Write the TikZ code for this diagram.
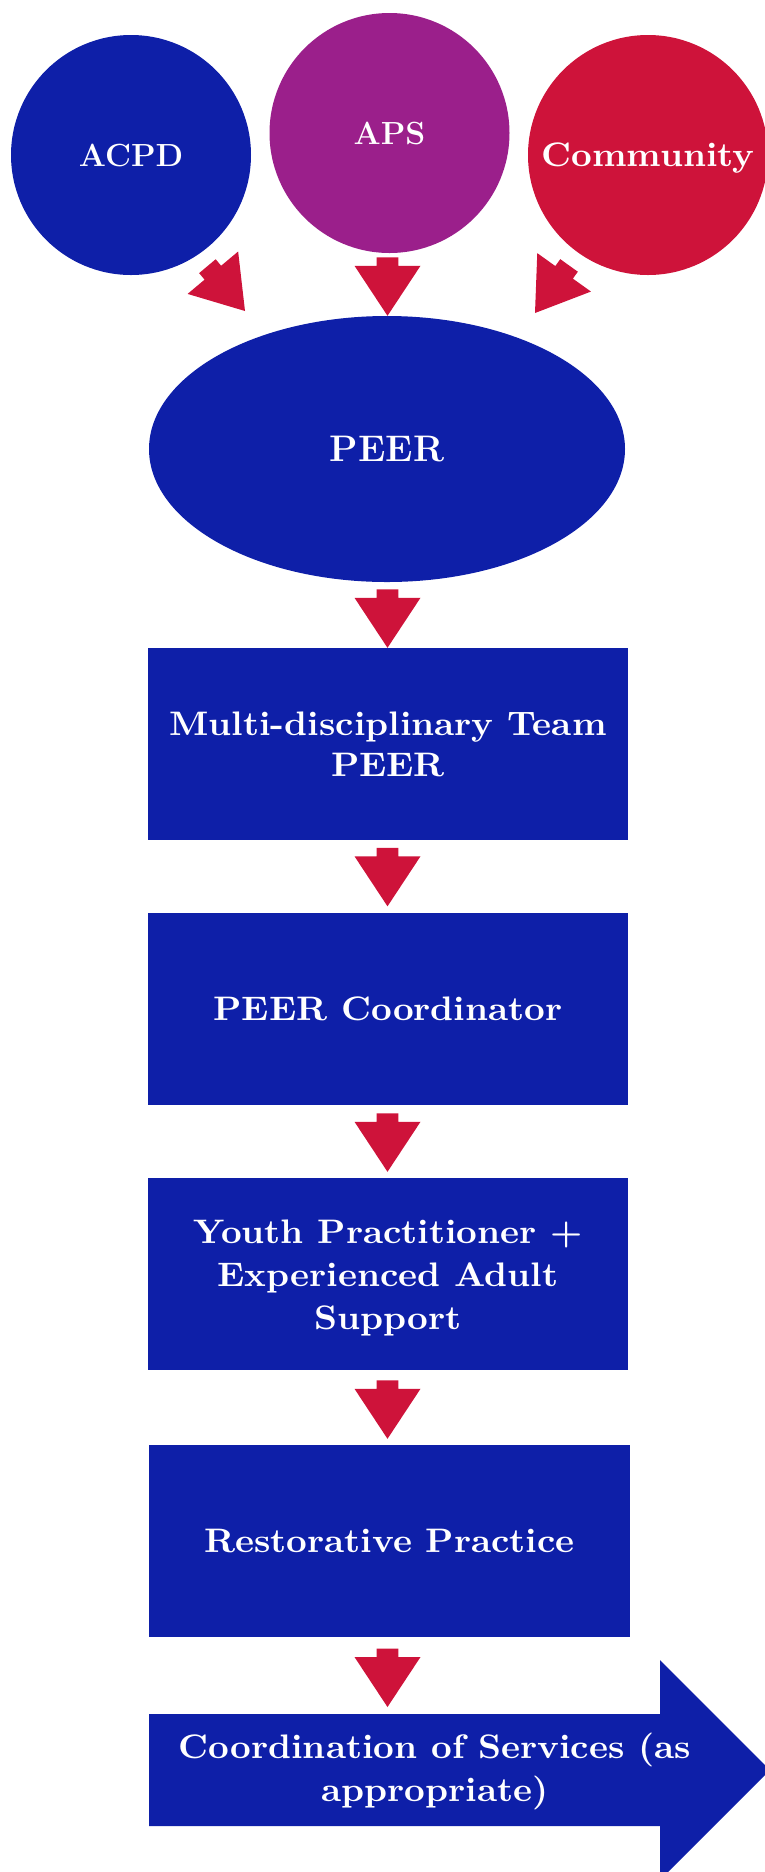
\documentclass[tikz,border=0pt]{standalone}
\usepackage{fontspec}
\newfontfamily\widebf[FakeStretch=1.06]{lmroman10-bold.otf}
\usetikzlibrary{shapes.geometric,calc}
\definecolor{pblue}{RGB}{14,31,168}
\definecolor{pred}{RGB}{206,19,58}
\definecolor{ppurple}{RGB}{155,31,139}
\tikzset{
  circ/.style={circle, inner sep=0pt, minimum size=240pt, text=white, text depth=0pt,
    font=\fontsize{32}{38}\selectfont\bfseries},
  boxnode/.style={rectangle, fill=pblue, inner sep=0pt, text=white, align=center,
    minimum width=480pt, minimum height=192pt,
    font=\fontsize{34}{41}\selectfont\widebf},
  boxtext/.style={inner sep=0pt, text=white, align=center,
    font=\fontsize{34}{43}\selectfont\widebf},
  barrow/.pic={\fill[pred] (-10.8,-58.5) -- (10.8,-58.5) -- (10.8,-50) -- (33,-50)
      -- (0,0) -- (-33,-50) -- (-10.8,-50) -- cycle;}
}
\begin{document}
\begin{tikzpicture}[x=1pt,y=-1pt]
\useasboundingbox (0,0) rectangle (765,1872);
% top circles
\node[circ, fill=pblue] (acpd) at (131,155) {ACPD};
\node[circ, fill=ppurple] (aps) at (389.5,133) {APS};
\node[circ, fill=pred, font=\fontsize{34}{40}\selectfont\widebf] (comm) at (648,155) {Community};
% PEER ellipse
\node[ellipse, fill=pblue, inner sep=0pt, minimum width=476pt, minimum height=266pt,
  text=white, font=\fontsize{37}{44}\selectfont\bfseries] (peer) at (387,449) {PEER};
% boxes
\node[boxnode] (b1) at (388,744) {Multi-disciplinary Team\\PEER};
\node[boxnode] (b2) at (388,1009) {PEER Coordinator};
\node[boxnode] (b3) at (388,1274) {};
\node[boxtext] (b3t) at ($(b3.center)+(0,4)$) {Youth Practitioner +\\Experienced Adult\\Support};
\node[boxnode, minimum width=481pt] (b4) at (389.5,1541) {Restorative Practice};
% final big arrow
\coordinate (ctop) at (387.5,1714);
\fill[pblue] (149,1714) -- (660,1714) -- (660,1660) -- (770,1770) -- (660,1880)
  -- (660,1826) -- (149,1826) -- cycle;
\node[boxtext] (coord) at (435,1771)
  {Coordination of Services (as\\appropriate)};
% block arrows
\coordinate (tl) at (245,311);
\coordinate (tr) at (535,313);
\pic[rotate=40] at (tl) {barrow};
\pic[rotate=-35.6] at (tr) {barrow};
\pic at (peer.north -| 387.5,0) {barrow};
\pic at (b1.north -| 387.5,0) {barrow};
\pic at ($(b2.north -| 387.5,0)+(0,-6.5)$) {barrow};
\pic at ($(b3.north -| 387.5,0)+(0,-6)$) {barrow};
\pic at ($(b4.north -| 387.5,0)+(0,-6)$) {barrow};
\pic at ($(ctop)+(0,-7)$) {barrow};
\end{tikzpicture}
\end{document}
